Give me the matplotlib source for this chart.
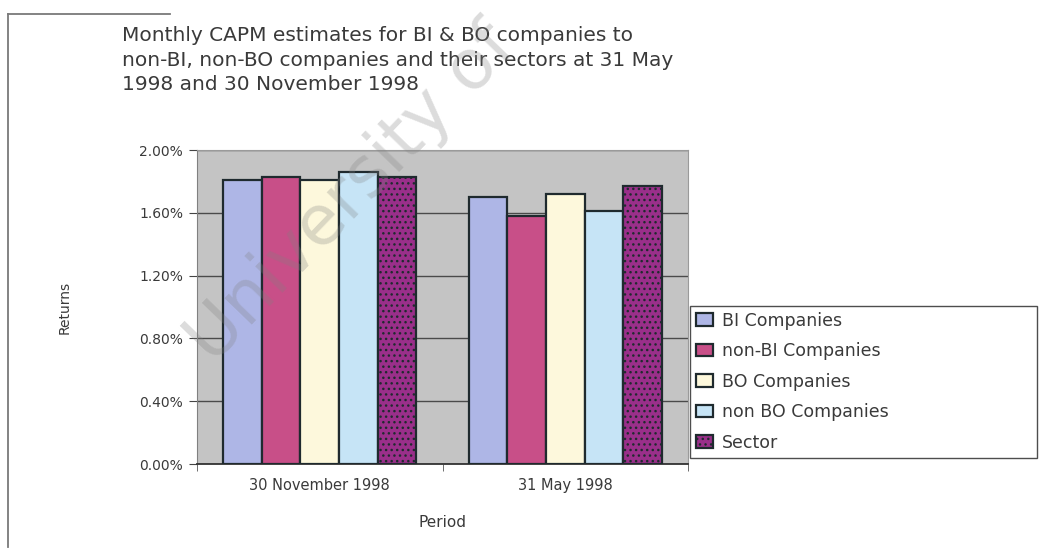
import matplotlib
matplotlib.use("Agg")
import matplotlib.pyplot as plt
import numpy as np
from matplotlib.lines import Line2D
from matplotlib.ticker import FuncFormatter, FixedLocator

# Monthly CAPM estimates (% per month)
periods = ["30 November 1998", "31 May 1998"]
series_names = ["BI Companies", "non-BI Companies", "BO Companies",
                "non BO Companies", "Sector"]
bi_companies = [1.81, 1.70]
non_bi_companies = [1.83, 1.58]
bo_companies = [1.81, 1.72]
non_bo_companies = [1.86, 1.61]
sector = [1.83, 1.77]
y_ticks = [0.0, 0.4, 0.8, 1.2, 1.6, 2.0]

series_values = [bi_companies, non_bi_companies, bo_companies,
                 non_bo_companies, sector]
colors = ["#aeb6e6", "#c84f88", "#fdf8dc", "#c6e4f6", "#9a2f8a"]
hatches = [None, None, None, None, "..."]

text_color = "#3a3a3a"
W, H = 1053, 550
fig = plt.figure(figsize=(W / 100, H / 100), dpi=100)
fig.patch.set_facecolor("white")

ax = fig.add_axes([197 / W, 1 - 464 / H, (688 - 197) / W, (464 - 150) / H])
ax.set_facecolor("#c4c4c4")

x = np.arange(len(periods))
bar_w = 0.157
for i, (name, vals) in enumerate(zip(series_names, series_values)):
    ax.bar(x + (i - 2) * bar_w, vals, width=bar_w, color=colors[i],
           edgecolor="#1f2a2e", linewidth=1.6, hatch=hatches[i],
           label=name, zorder=3)

ax.set_xlim(-0.5, 1.5)
ax.set_ylim(0, 2.0)
ax.yaxis.set_major_locator(FixedLocator(y_ticks))
ax.yaxis.set_major_formatter(FuncFormatter(lambda v, _: f"{v:.2f}%"))
ax.grid(axis="y", color="#4a4a4a", linewidth=1.0, zorder=1)
ax.set_axisbelow(True)

ax.set_xticks(x)
ax.set_xticklabels(periods)
ax.set_xticks([-0.5, 0.5, 1.5], minor=True)
ax.tick_params(axis="x", which="major", length=0, pad=10,
               labelsize=10.5, colors=text_color)
ax.tick_params(axis="x", which="minor", length=5, color="#555555")
ax.tick_params(axis="y", length=6, color="#444444", pad=4,
               labelsize=10, labelcolor=text_color)

for side in ["top", "right"]:
    ax.spines[side].set_color("#9a9a9a")
ax.spines["left"].set_color("#808080")
ax.spines["bottom"].set_color("#333333")
ax.spines["bottom"].set_linewidth(1.3)

ax.set_ylabel("Returns", fontsize=10, color=text_color)
ax.yaxis.set_label_coords(-0.255, 0.5)
ax.set_xlabel("Period", fontsize=11, color=text_color, labelpad=16)

fig.text(122 / W, 1 - 26 / H,
         "Monthly CAPM estimates for BI & BO companies to\n"
         "non-BI, non-BO companies and their sectors at 31 May\n"
         "1998 and 30 November 1998",
         fontsize=14.5, color=text_color, ha="left", va="top",
         linespacing=1.37)

leg = ax.legend(loc="upper left",
                bbox_to_anchor=(690 / W, 1 - 311 / H, (1037 - 690) / W, 0.01),
                bbox_transform=fig.transFigure, mode="expand",
                fontsize=12.5, frameon=True, fancybox=False, shadow=False,
                borderpad=0.35, labelspacing=0.72, handlelength=1.0,
                handleheight=0.75, handletextpad=0.5, borderaxespad=0)
leg.get_frame().set_edgecolor("#222222")
leg.get_frame().set_linewidth(1.0)
for t in leg.get_texts():
    t.set_color(text_color)

# chart frame edges
fig.add_artist(Line2D([8 / W, 8 / W], [1 - 14 / H, 1 - 547 / H],
                      transform=fig.transFigure, color="#7a7a7a", lw=1.3))
fig.add_artist(Line2D([8 / W, 170 / W], [1 - 14 / H, 1 - 14 / H],
                      transform=fig.transFigure, color="#7a7a7a", lw=1.3))

# faint diagonal watermark
fig.text(352 / W, 1 - 194 / H, "University of", fontsize=50,
         rotation=46, rotation_mode="anchor", ha="center", va="center",
         color="#808080", alpha=0.28, zorder=10)

fig.savefig("out.png", dpi=100)
